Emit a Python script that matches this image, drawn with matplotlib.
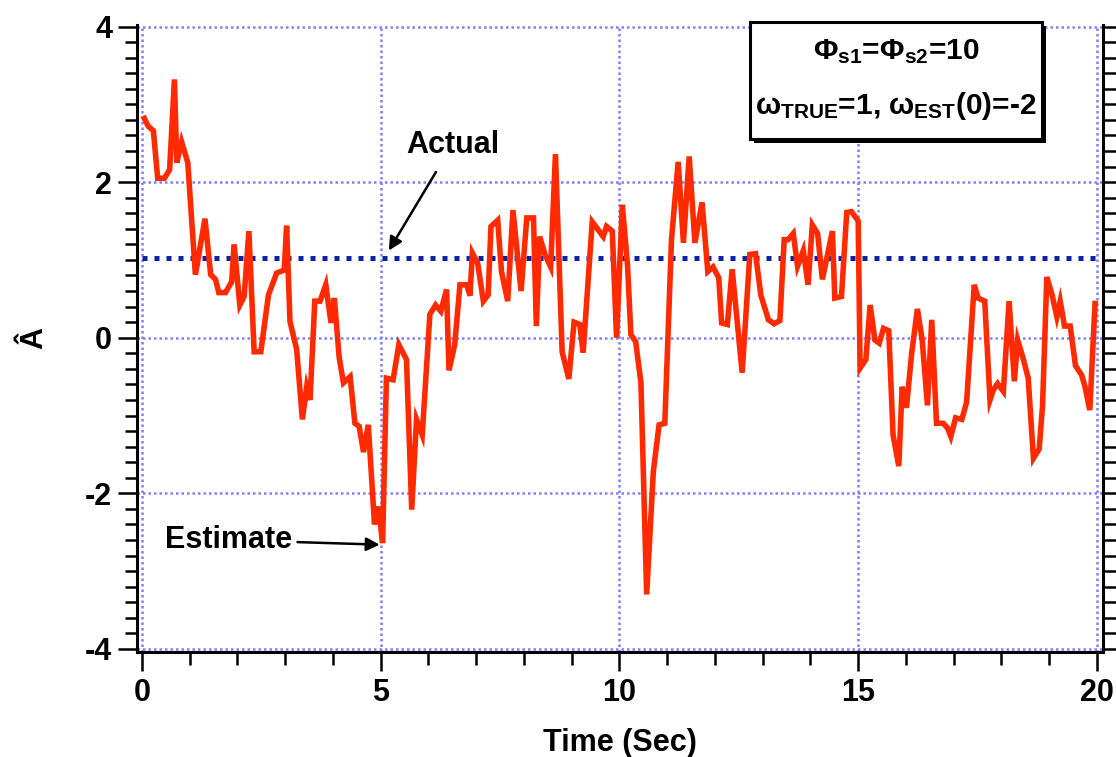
import matplotlib
matplotlib.use("Agg")
import matplotlib.pyplot as plt
import matplotlib.patches as mpatches
from matplotlib.ticker import MultipleLocator

plt.rcParams['font.family'] = ['Liberation Sans', 'DejaVu Sans']
plt.rcParams['font.weight'] = 'bold'
plt.rcParams['axes.unicode_minus'] = False
plt.rcParams['mathtext.fontset'] = 'custom'
plt.rcParams['mathtext.rm'] = 'Liberation Sans:bold'
plt.rcParams['mathtext.bf'] = 'Liberation Sans:bold'
plt.rcParams['mathtext.it'] = 'Liberation Sans:bold'

# estimated A
t_est = [0.05, 0.13, 0.24, 0.33, 0.47, 0.58, 0.68, 0.73, 0.83, 0.96,
         1.12, 1.32, 1.44, 1.54, 1.61, 1.75, 1.88, 1.93, 2.05, 2.14,
         2.24, 2.35, 2.49, 2.65, 2.82, 2.98, 3.03, 3.10, 3.24, 3.36,
         3.45, 3.52, 3.62, 3.73, 3.85, 3.96, 4.03, 4.13, 4.22, 4.36,
         4.46, 4.55, 4.64, 4.74, 4.87, 4.95, 5.04, 5.12, 5.26, 5.38,
         5.54, 5.65, 5.75, 5.87, 6.03, 6.15, 6.26, 6.38, 6.43, 6.55,
         6.66, 6.80, 6.87, 6.92, 7.03, 7.15, 7.25, 7.31, 7.45, 7.53,
         7.66, 7.77, 7.94, 8.06, 8.20, 8.26, 8.33, 8.44, 8.56, 8.66,
         8.80, 8.94, 9.05, 9.17, 9.24, 9.43, 9.66, 9.73, 9.85, 9.94,
         10.06, 10.17, 10.24, 10.34, 10.45, 10.57, 10.71, 10.83, 10.95, 11.09,
         11.23, 11.34, 11.46, 11.58, 11.73, 11.85, 11.96, 12.08, 12.14, 12.26,
         12.36, 12.57, 12.73, 12.85, 12.96, 13.12, 13.24, 13.36, 13.45, 13.53,
         13.64, 13.73, 13.85, 13.95, 14.04, 14.15, 14.25, 14.46, 14.51, 14.65,
         14.76, 14.86, 15.00, 15.04, 15.16, 15.25, 15.35, 15.44, 15.53, 15.64,
         15.73, 15.85, 15.92, 16.01, 16.12, 16.24, 16.34, 16.45, 16.54, 16.64,
         16.78, 16.87, 16.94, 17.04, 17.17, 17.27, 17.43, 17.51, 17.65, 17.76,
         17.83, 17.92, 18.04, 18.16, 18.27, 18.34, 18.46, 18.56, 18.67, 18.79,
         18.86, 18.95, 19.06, 19.16, 19.23, 19.32, 19.44, 19.55, 19.68, 19.75,
         19.85, 19.96]
a_est = [2.82, 2.72, 2.66, 2.05, 2.05, 2.16, 3.32, 2.25, 2.52, 2.25,
         0.81, 1.53, 0.81, 0.75, 0.58, 0.58, 0.72, 1.20, 0.42, 0.53,
         1.37, -0.18, -0.18, 0.55, 0.83, 0.87, 1.44, 0.21, -0.15, -1.05,
         -0.63, -0.80, 0.47, 0.47, 0.68, 0.19, 0.51, -0.25, -0.58, -0.50,
         -1.10, -1.14, -1.47, -1.12, -2.40, -2.17, -2.64, -0.52, -0.54, -0.09,
         -0.28, -2.21, -1.05, -1.25, 0.30, 0.42, 0.34, 0.62, -0.42, -0.09,
         0.68, 0.68, 0.54, 1.09, 0.96, 0.47, 0.55, 1.43, 1.51, 0.85,
         0.47, 1.64, 0.60, 1.54, 1.54, 0.15, 1.30, 1.07, 0.91, 2.36,
         -0.18, -0.53, 0.20, 0.17, -0.19, 1.49, 1.30, 1.43, 1.37, 0.00,
         1.71, 0.92, 0.04, -0.05, -0.58, -3.30, -1.72, -1.12, -1.10, 1.26,
         2.26, 1.22, 2.33, 1.22, 1.74, 0.85, 0.91, 0.77, 0.19, 0.17,
         0.88, -0.45, 1.07, 1.08, 0.55, 0.23, 0.18, 0.22, 1.26, 1.26,
         1.34, 0.92, 1.12, 0.68, 1.45, 1.34, 0.75, 1.37, 0.51, 0.53,
         1.61, 1.62, 1.50, -0.39, -0.28, 0.42, -0.03, -0.07, 0.12, 0.09,
         -1.25, -1.65, -0.63, -0.90, -0.20, 0.37, -0.03, -0.87, 0.23, -1.10,
         -1.10, -1.16, -1.27, -1.03, -1.05, -0.83, 0.68, 0.51, 0.47, -0.80,
         -0.67, -0.59, -0.69, 0.47, -0.56, -0.03, -0.28, -0.52, -1.55, -1.43,
         -0.88, 0.78, 0.55, 0.27, 0.47, 0.15, 0.15, -0.36, -0.48, -0.63,
         -0.93, 0.44]

# actual A
t_act = [0.0, 20.0]
a_act = [1.03, 1.03]

x_ticks = [0, 5, 10, 15, 20]
y_ticks = [-4, -2, 0, 2, 4]

fig = plt.figure(figsize=(11.16, 7.57), dpi=100)
ax = fig.add_axes([0.1229, 0.1387, 0.8656, 0.8283])

ax.plot(t_act, a_act, color='#0a22a8', lw=3.6, linestyle=(0, (1, 1.4)), zorder=3)
ax.plot(t_est, a_est, color='#ff2a00', lw=4.0, zorder=4, solid_joinstyle='miter')

ax.set_xlim(-0.1, 20.13)
ax.set_ylim(-4.04, 4.02)
ax.set_xticks(x_ticks)
ax.set_yticks(y_ticks)
ax.xaxis.set_minor_locator(MultipleLocator(1))
ax.yaxis.set_minor_locator(MultipleLocator(0.2))
ax.grid(True, which='major', color='#7f7fff', linestyle=(0, (1, 1.2)), lw=1.8)

ax.spines['top'].set_visible(False)
for s in ['left', 'right', 'bottom']:
    ax.spines[s].set_linewidth(2.2)
ax.tick_params(which='both', direction='out', width=1.8, labelsize=22,
               right=True, labelright=False)
ax.tick_params(which='major', length=14, pad=4)
ax.tick_params(which='minor', length=9)
ax.tick_params(axis='x', which='major', length=14, pad=5)
ax.tick_params(axis='x', which='minor', length=9)

ax.set_xlabel('Time (Sec)', fontsize=22, fontweight='bold', labelpad=14)
ax.set_ylabel('Â', fontsize=22, fontweight='bold', labelpad=26)

# annotations
ax.annotate('Actual', xy=(5.17, 1.12), xytext=(6.5, 2.48), fontsize=22,
            fontweight='bold', ha='center', va='center',
            arrowprops=dict(arrowstyle='-|>', color='black', lw=1.8,
                            mutation_scale=20, shrinkA=8, shrinkB=0))
ax.annotate('Estimate', xy=(4.98, -2.66), xytext=(0.48, -2.60), fontsize=22,
            fontweight='bold', ha='left', va='center',
            arrowprops=dict(arrowstyle='-|>', color='black', lw=1.8,
                            mutation_scale=20, shrinkA=2, shrinkB=0))

# parameter box with drop shadow (figure coordinates)
W, H = 1116.0, 757.0
bx0, bx1, by0, by1 = 750 / W, 1042 / W, 1 - 139 / H, 1 - 22 / H
shadow = mpatches.Rectangle((bx0 + 4 / W, by0 - 4 / H), bx1 - bx0, by1 - by0,
                            transform=fig.transFigure, fc='black', ec='black',
                            lw=0, zorder=5)
box = mpatches.Rectangle((bx0, by0), bx1 - bx0, by1 - by0,
                         transform=fig.transFigure, fc='white', ec='black',
                         lw=2.2, zorder=6)
fig.add_artist(shadow)
fig.add_artist(box)
fig.text(896 / W, 1 - 52 / H, '$\\Phi_{s1}$=$\\Phi_{s2}$=10', fontsize=21.5,
         fontweight='bold', ha='center', va='center', zorder=7)
fig.text(896 / W, 1 - 106 / H, '$\\omega_{TRUE}$=1, $\\omega_{EST}$(0)=-2',
         fontsize=21.5, fontweight='bold', ha='center', va='center', zorder=7)

fig.savefig('out.png', dpi=100)
